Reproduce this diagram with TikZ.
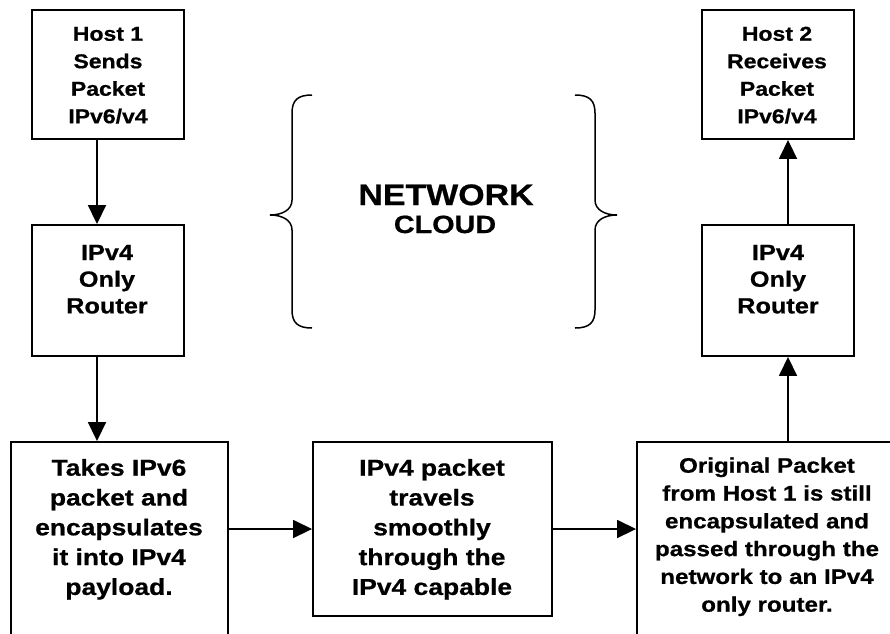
\documentclass[tikz,border=0pt]{standalone}
\usepackage{fontspec}
\setmainfont{Liberation Sans}[FakeStretch=1.15]
\newfontfamily\labfont{Liberation Sans Bold}[FakeStretch=1.15, FakeBold=0.7]
\usetikzlibrary{arrows.meta}
\tikzset{
  box/.style={draw=black, line width=1.9pt, rectangle, inner sep=0pt},
  arr/.style={draw=black, line width=1.7pt, -{Triangle[length=19pt,width=18pt]}},
  brace/.style={draw=black, line width=1.5pt},
  txt/.style={anchor=base, inner sep=0pt}
}
\newcommand{\ttop}[3]{{\labfont\fontsize{#1}{#2}\selectfont\begin{tabular}[t]{@{}c@{}}#3\end{tabular}}}
\begin{document}
\begin{tikzpicture}[x=1pt,y=-1pt]
\useasboundingbox (0,0) rectangle (890,633);
\fill[white] (0,0) rectangle (890,633);
\clip (0,0) rectangle (890,633);

% boxes
\node[box, minimum width=152pt, minimum height=129pt] (h1) at (108,74.5) {};
\node[box, minimum width=152pt, minimum height=131pt] (r1) at (108,290.5) {};
\node[box, minimum width=152pt, minimum height=129pt] (h2) at (778,74.5) {};
\node[box, minimum width=152pt, minimum height=131pt] (r2) at (778,290.5) {};
\node[box, minimum width=217pt, minimum height=258pt] (b1) at (119.5,571) {};
\node[box, minimum width=239pt, minimum height=174pt] (b2) at (432.5,529) {};
\node[box, minimum width=260pt, minimum height=258pt] (b3) at (767,571) {};

% texts
\node[txt] (t1) at (108,40.7) {\ttop{20}{27.5}{Host 1\\Sends\\Packet\\IPv6/v4}};
\node[txt] (t2) at (107,260) {\ttop{22}{26.7}{IPv4\\Only\\Router}};
\node[txt] (t3) at (777,40.7) {\ttop{20}{27.5}{Host 2\\Receives\\Packet\\IPv6/v4}};
\node[txt] (t4) at (778,260) {\ttop{22}{26.7}{IPv4\\Only\\Router}};
\node[txt] (t5) at (119,475.7) {\ttop{23}{29.8}{Takes IPv6\\packet and\\encapsulates\\it into IPv4\\payload.}};
\node[txt] (t6) at (432,475.7) {\ttop{23}{29.8}{IPv4 packet\\travels\\smoothly\\through the\\IPv4 capable}};
\node[txt] (t7) at (767,472.7) {\ttop{21}{27.8}{Original Packet\\from Host 1 is still\\encapsulated and\\passed through the\\network to an IPv4\\only router.}};
\node[txt] (net) at (446,205) {\labfont\fontsize{29.5}{32}\selectfont NETWORK};
\node[txt] (cloud) at (445,233) {\labfont\fontsize{25}{28}\selectfont CLOUD};

% braces
\draw[brace] (312,95) .. controls (298,95) and (292,100) .. (292,113) -- (292,200)
  .. controls (292,210) and (282,215) .. (270,215)
  .. controls (282,215) and (292,220) .. (292,230) -- (292,310)
  .. controls (292,323) and (298,328) .. (312,328);
\draw[brace] (575,95) .. controls (589,95) and (595,100) .. (595,113) -- (595,200)
  .. controls (595,210) and (605,215) .. (617,215)
  .. controls (605,215) and (595,220) .. (595,230) -- (595,310)
  .. controls (595,323) and (589,328) .. (575,328);

% connectors
\draw[arr] ([xshift=-11pt]h1.south) -- ([xshift=-11pt]r1.north);
\draw[arr] ([xshift=-11pt]r1.south) -- ([xshift=-11pt]r1.south |- b1.north);
\draw[arr] (b1.east |- b2.west) -- (b2.west);
\draw[arr] (b2.east) -- (b2.east -| b3.west);
\draw[arr] ([xshift=10pt]r2.south |- b3.north) -- ([xshift=10pt]r2.south);
\draw[arr] ([xshift=10pt]r2.north) -- ([xshift=10pt]h2.south);
\end{tikzpicture}
\end{document}
